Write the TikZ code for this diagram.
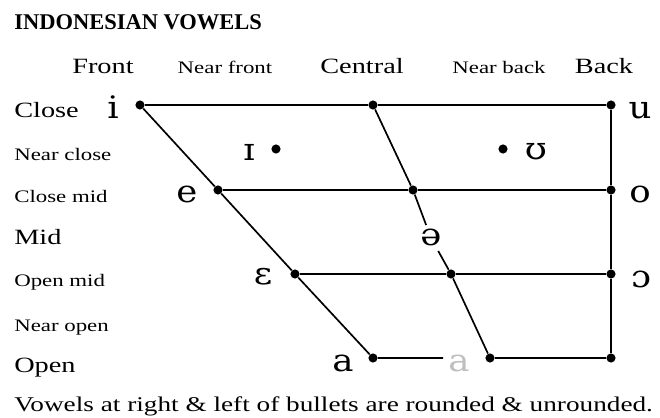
\documentclass[tikz,border=0pt]{standalone}
\usepackage{fontspec}
\setmainfont{Liberation Serif}
\newfontfamily\widefont{Liberation Serif}[FakeStretch=1.3]
\newfontfamily\ipafont{DejaVu Serif}[FakeStretch=1.15]
\usetikzlibrary{positioning}
\tikzset{
  vow/.style={font=\ipafont\fontsize{22}{22}\selectfont, inner sep=1pt, anchor=base},
  big/.style={font=\widefont\fontsize{15.5}{16}\selectfont, inner sep=0pt},
  small/.style={font=\widefont\fontsize{12.5}{13}\selectfont, inner sep=0pt},
  ln/.style={line width=1.2pt},
}

\begin{document}
\begin{tikzpicture}[x=0.025cm, y=-0.025cm,
      pt/.style={circle, fill, inner sep=0pt, minimum size=6.5pt}]
    \useasboundingbox (0,0) rectangle (660,418);
    \node[font=\bfseries\fontsize{16}{16}\selectfont, anchor=base west, inner sep=0pt] (title) at (14,30) {INDONESIAN VOWELS};
    % columns
    \node[big, anchor=base] (front) at (103,74) {Front};
    \node[small, anchor=base] (nfront) at (225,74) {Near front};
    \node[big, anchor=base] (central) at (362,74) {Central};
    \node[small, anchor=base] (nback) at (499,74) {Near back};
    \node[big, anchor=base] (back) at (604,74) {Back};
    % rows
    \node[big, anchor=base west] (close) at (14,118) {Close};
    \node[small, anchor=base west] (nclose) at (14,161) {Near close};
    \node[small, anchor=base west] (cmid) at (14,203) {Close mid};
    \node[big, anchor=base west] (mid) at (14,245) {Mid};
    \node[small, anchor=base west] (omid) at (14,287) {Open mid};
    \node[small, anchor=base west] (nopen) at (14,332) {Near open};
    \node[big, anchor=base west] (open) at (14,373) {Open};
    % points
    \node[pt] (iF) at (140,105) {};
    \node[pt] (iC) at (373,105) {};
    \node[pt] (iB) at (611,105) {};
    \node[pt] (nF) at (276,149) {};
    \node[pt] (nB) at (503,149) {};
    \node[pt] (eF) at (218,190) {};
    \node[pt] (eC) at (413,190) {};
    \node[pt] (eB) at (611,190) {};
    \node[pt] (oF) at (295,274) {};
    \node[pt] (oC) at (451,274) {};
    \node[pt] (oB) at (611,274) {};
    \node[pt] (aF) at (373,358) {};
    \node[pt] (aC) at (490,358) {};
    \node[pt] (aB) at (611,358) {};
    \coordinate (aE) at (443,358);
    % vowels
    \node[vow] (i) at (113,119) {i};
    \node[vow] (u) at (640,119) {u};
    \node[vow] (I) at (249,161) {ɪ};
    \node[vow] (U) at (536,160) {ʊ};
    \node[vow] (e) at (187,203) {e};
    \node[vow] (o) at (640,203) {o};
    \node[vow, inner sep=3pt] (schwa) at (431,246) {ə};
    \node[vow] (E) at (263,285) {ɛ};
    \node[vow] (O) at (641,288) {ɔ};
    \node[vow] (a) at (343,372) {a};
    \node[vow, text=black!25] (ag) at (459,372) {a};
    % lines
    \draw[ln] (iF) -- (iC) -- (iB) -- (eB) -- (oB) -- (aB) -- (aC);
    \draw[ln] (iF) -- (eF) -- (oF) -- (aF) -- (aE);
    \draw[ln] (eF) -- (eC) -- (eB);
    \draw[ln] (oF) -- (oC) -- (oB);
    \draw[ln] (iC) -- (eC) -- (schwa) -- (oC) -- (aC);
    \node[font=\widefont\fontsize{14.9}{15}\selectfont, anchor=base west, inner sep=0pt] (note) at (14,412) {Vowels at right \& left of bullets are rounded \& unrounded.};
  \end{tikzpicture}
\end{document}
